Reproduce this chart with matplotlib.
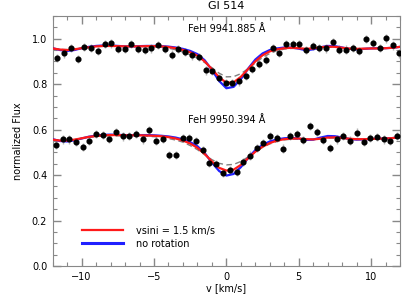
import matplotlib
matplotlib.use("Agg")
import matplotlib.pyplot as plt
from matplotlib.ticker import MultipleLocator

plt.rcParams['font.family'] = ['DejaVu Sans']

title = "Gl 514"
line_labels = ["FeH 9941.885 Å", "FeH 9950.394 Å"]
legend_labels = ["vsini = 1.5 km/s", "no rotation"]

# observed points, line 1
v_top = [-11.67, -11.21, -10.74, -10.28, -9.82, -9.36, -8.87, -8.41, -7.95, -7.48,
         -7.03, -6.56, -6.10, -5.64, -5.18, -4.71, -4.25, -3.79, -3.33, -2.86,
         -2.36, -1.90, -1.43, -0.97, -0.51, -0.05, 0.42, 0.87, 1.34, 1.80,
         2.26, 2.72, 3.19, 3.65, 4.11, 4.57, 5.03, 5.49, 5.96, 6.42,
         6.88, 7.35, 7.81, 8.27, 8.73, 9.19, 9.65, 10.12, 10.58, 11.04,
         11.50, 11.96]
f_top = [0.916, 0.935, 0.960, 0.912, 0.963, 0.960, 0.945, 0.975, 0.979, 0.956,
         0.956, 0.975, 0.954, 0.952, 0.957, 0.972, 0.956, 0.930, 0.955, 0.940,
         0.926, 0.920, 0.860, 0.856, 0.827, 0.806, 0.804, 0.812, 0.834, 0.867,
         0.889, 0.908, 0.960, 0.938, 0.975, 0.975, 0.975, 0.949, 0.967, 0.960,
         0.957, 0.987, 0.952, 0.952, 0.960, 0.945, 0.997, 0.982, 0.960, 1.001,
         0.970, 0.935]

# observed points, line 2
v_bot = [-11.78, -11.32, -10.86, -10.40, -9.94, -9.47, -9.01, -8.55, -8.09, -7.62,
         -7.17, -6.70, -6.24, -5.78, -5.32, -4.86, -4.40, -3.94, -3.48, -3.02,
         -2.56, -2.10, -1.64, -1.18, -0.72, -0.26, 0.22, 0.70, 1.16, 1.62,
         2.09, 2.55, 3.01, 3.47, 3.93, 4.40, 4.86, 5.32, 5.78, 6.24,
         6.71, 7.17, 7.63, 8.09, 8.56, 9.02, 9.48, 9.94, 10.41, 10.87,
         11.33, 11.79]
f_bot = [0.533, 0.557, 0.557, 0.545, 0.523, 0.549, 0.582, 0.575, 0.560, 0.589,
         0.570, 0.572, 0.580, 0.557, 0.600, 0.552, 0.560, 0.489, 0.489, 0.563,
         0.563, 0.548, 0.510, 0.455, 0.450, 0.411, 0.422, 0.414, 0.459, 0.486,
         0.519, 0.542, 0.572, 0.564, 0.517, 0.572, 0.582, 0.556, 0.615, 0.590,
         0.556, 0.519, 0.557, 0.572, 0.552, 0.587, 0.545, 0.564, 0.566, 0.557,
         0.551, 0.572]

flux_err = 0.018

# model grid
v_model = [-12, -11.5, -11, -10.5, -10, -9.5, -9, -8.5, -8, -7.5, -7, -6.5, -6,
           -5.5, -5, -4.5, -4, -3.5, -3, -2.5, -2, -1.5, -1, -0.5, 0,
           0.5, 1, 1.5, 2, 2.5, 3, 3.5, 4, 4.5, 5, 5.5, 6, 6.5, 7,
           7.5, 8, 8.5, 9, 9.5, 10, 10.5, 11, 11.5, 12]

red_top = [0.957, 0.952, 0.950, 0.953, 0.958, 0.962, 0.966, 0.968, 0.968, 0.967, 0.966, 0.966, 0.966,
           0.967, 0.967, 0.966, 0.963, 0.958, 0.950, 0.940, 0.925, 0.900, 0.866, 0.830, 0.806,
           0.808, 0.832, 0.866, 0.900, 0.927, 0.944, 0.953, 0.958, 0.960, 0.958, 0.955, 0.957, 0.962, 0.965,
           0.964, 0.960, 0.956, 0.955, 0.956, 0.957, 0.957, 0.958, 0.960, 0.964]
blue_top = [0.958, 0.950, 0.946, 0.950, 0.958, 0.964, 0.968, 0.970, 0.970, 0.968, 0.966, 0.966, 0.967,
            0.968, 0.968, 0.967, 0.965, 0.961, 0.955, 0.946, 0.932, 0.905, 0.862, 0.814, 0.782,
            0.788, 0.822, 0.868, 0.908, 0.935, 0.950, 0.957, 0.961, 0.961, 0.956, 0.949, 0.953, 0.962, 0.968,
            0.967, 0.961, 0.955, 0.953, 0.955, 0.957, 0.958, 0.958, 0.960, 0.964]
grey_top = [0.956, 0.953, 0.952, 0.954, 0.958, 0.962, 0.965, 0.966, 0.966, 0.966, 0.965, 0.965, 0.965,
            0.965, 0.964, 0.962, 0.958, 0.951, 0.941, 0.929, 0.914, 0.895, 0.872, 0.848, 0.832,
            0.833, 0.846, 0.868, 0.893, 0.917, 0.935, 0.947, 0.954, 0.957, 0.957, 0.956, 0.957, 0.960, 0.962,
            0.962, 0.959, 0.957, 0.956, 0.956, 0.957, 0.957, 0.958, 0.960, 0.963]

red_bot = [0.556, 0.552, 0.552, 0.556, 0.562, 0.568, 0.572, 0.575, 0.576, 0.576, 0.575, 0.575, 0.575,
           0.574, 0.573, 0.571, 0.567, 0.561, 0.552, 0.539, 0.520, 0.493, 0.460, 0.432, 0.420,
           0.424, 0.445, 0.474, 0.503, 0.525, 0.541, 0.552, 0.558, 0.561, 0.561, 0.558, 0.557, 0.560, 0.565,
           0.566, 0.563, 0.560, 0.558, 0.558, 0.559, 0.560, 0.561, 0.563, 0.567]
blue_bot = [0.558, 0.550, 0.548, 0.553, 0.561, 0.569, 0.574, 0.577, 0.578, 0.577, 0.576, 0.576, 0.576,
            0.576, 0.575, 0.573, 0.570, 0.565, 0.557, 0.545, 0.527, 0.497, 0.455, 0.418, 0.398,
            0.405, 0.435, 0.475, 0.510, 0.533, 0.548, 0.557, 0.562, 0.564, 0.561, 0.555, 0.556, 0.565, 0.572,
            0.571, 0.565, 0.559, 0.556, 0.557, 0.559, 0.560, 0.561, 0.563, 0.567]
grey_bot = [0.555, 0.553, 0.553, 0.556, 0.561, 0.566, 0.570, 0.572, 0.573, 0.573, 0.573, 0.572, 0.572,
            0.571, 0.569, 0.566, 0.561, 0.554, 0.545, 0.530, 0.512, 0.490, 0.468, 0.452, 0.445,
            0.447, 0.460, 0.480, 0.502, 0.522, 0.537, 0.548, 0.555, 0.558, 0.558, 0.557, 0.557, 0.560, 0.563,
            0.563, 0.561, 0.559, 0.558, 0.558, 0.559, 0.560, 0.561, 0.562, 0.565]

fig = plt.figure(figsize=(4.15, 3.0), dpi=100)
ax = fig.add_axes([0.127, 0.113, 0.837, 0.834])

axis_col = '#888888'
for v, f in ((v_top, f_top), (v_bot, f_bot)):
    ax.errorbar(v, f, yerr=flux_err, fmt='none', ecolor='#b5b5b5', elinewidth=1.0, zorder=1)

for g, b, r in ((grey_top, blue_top, red_top), (grey_bot, blue_bot, red_bot)):
    ax.plot(v_model, g, color='#808080', lw=1.0, ls=(0, (4, 2.5)), zorder=2)
    ax.plot(v_model, b, color='#2020ff', lw=1.6, zorder=3)
    ax.plot(v_model, r, color='#ff1a1a', lw=1.6, zorder=4)

for v, f in ((v_top, f_top), (v_bot, f_bot)):
    ax.plot(v, f, 'o', color='black', ms=3.4, zorder=5)

ax.text(0, 1.041, line_labels[0], ha='center', va='center', fontsize=7)
ax.text(0, 0.641, line_labels[1], ha='center', va='center', fontsize=7)

# legend
h1, = ax.plot([], [], color='#ff1a1a', lw=1.6)
h2, = ax.plot([], [], color='#2020ff', lw=2.2)
ax.legend([h1, h2], legend_labels, loc='lower left', bbox_to_anchor=(0.06, 0.035),
          frameon=False, fontsize=7, handlelength=4.2, handletextpad=1.3,
          labelspacing=0.3)

ax.set_xlim(-12, 12)
ax.set_ylim(0.0, 1.1)
ax.xaxis.set_major_locator(MultipleLocator(5))
ax.xaxis.set_minor_locator(MultipleLocator(1))
ax.yaxis.set_major_locator(MultipleLocator(0.2))
ax.yaxis.set_minor_locator(MultipleLocator(0.05))
ax.set_yticks([0.0, 0.2, 0.4, 0.6, 0.8, 1.0])
ax.set_yticklabels(['0.0', '0.2', '0.4', '0.6', '0.8', '1.0'])
ax.tick_params(which='both', direction='in', top=True, right=True, colors=axis_col,
               labelcolor='black', labelsize=7)
ax.tick_params(which='major', length=6, width=1.0, pad=4)
ax.tick_params(which='minor', length=3, width=0.8)
for s in ax.spines.values():
    s.set_color(axis_col)
    s.set_linewidth(0.8)

ax.set_xlabel("v [km/s]", fontsize=7, labelpad=1)
ax.set_ylabel("normalized Flux", fontsize=7, labelpad=6)
ax.set_title(title, fontsize=8, pad=5)

fig.savefig("out.png", dpi=100)
